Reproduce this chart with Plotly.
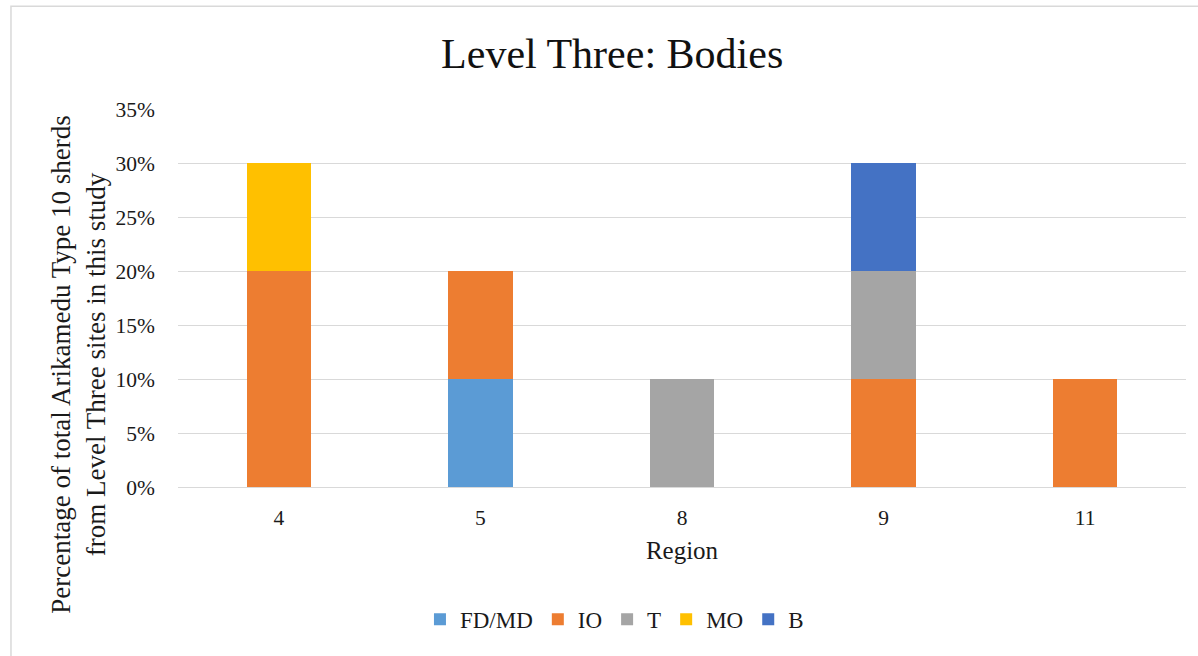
import plotly.graph_objects as go

regions = ["4", "5", "8", "9", "11"]
series_names = ["FD/MD", "IO", "T", "MO", "B"]
fd_md = [0, 0.10, 0, 0, 0]
io = [0.20, 0.10, 0, 0.10, 0.10]
t = [0, 0, 0.10, 0.10, 0]
mo = [0.10, 0, 0, 0, 0]
b = [0, 0, 0, 0.10, 0]
colors = ["#5B9BD5", "#ED7D31", "#A5A5A5", "#FFC000", "#4472C4"]
y_ticks = [0, 0.05, 0.10, 0.15, 0.20, 0.25, 0.30, 0.35]
y_title = "Percentage of total Arikamedu Type 10 sherds<br>from Level Three sites in this study"

FONT = "Liberation Serif, Times New Roman, serif"

fig = go.Figure()
for name, vals, col in zip(series_names, [fd_md, io, t, mo, b], colors):
    fig.add_trace(go.Bar(x=regions, y=vals, name=name, marker=dict(color=col, line=dict(width=0))))

fig.update_layout(
    width=1198, height=656,
    barmode="stack", bargap=0.68,
    paper_bgcolor="white", plot_bgcolor="white",
    font=dict(family=FONT, size=21, color="#1a1a1a"),
    margin=dict(l=178, r=12, t=109, b=169),
    title=dict(text="Level Three: Bodies", x=0.511, xanchor="center", xref="container",
               y=0.919, yanchor="middle", font=dict(size=42, color="#111111")),
    xaxis=dict(type="category", showgrid=False, showline=False, ticks="",
               tickfont=dict(size=21.5), ticklabelstandoff=15,
               title=dict(text="Region", font=dict(size=25), standoff=12)),
    yaxis=dict(range=[0, 0.35], tickvals=y_ticks, tickformat=".0%",
               showgrid=True, gridcolor="#D9D9D9", gridwidth=1.3,
               zeroline=True, zerolinecolor="#D9D9D9", zerolinewidth=1.3,
               showline=False, ticks="", tickfont=dict(size=21.5), ticklabelstandoff=22),
    legend=dict(orientation="h", x=0.433, xanchor="center", y=-0.35, yanchor="middle",
                font=dict(size=23), traceorder="normal", itemwidth=30),
    annotations=[dict(text=y_title, xref="paper", yref="paper", x=-0.0985, y=0.3228,
                      xanchor="center", yanchor="middle", textangle=-90, showarrow=False,
                      font=dict(size=27, color="#1a1a1a"))],
    shapes=[dict(type="rect", xref="paper", yref="paper",
                 x0=-0.1657, x1=1.03, y0=-0.46, y1=1.272,
                 line=dict(color="#D9D9D9", width=1.5), fillcolor="rgba(0,0,0,0)", layer="below")],
)

fig.write_html("out.html", config={"displayModeBar": False},
               post_script="document.body.style.margin='0';")
